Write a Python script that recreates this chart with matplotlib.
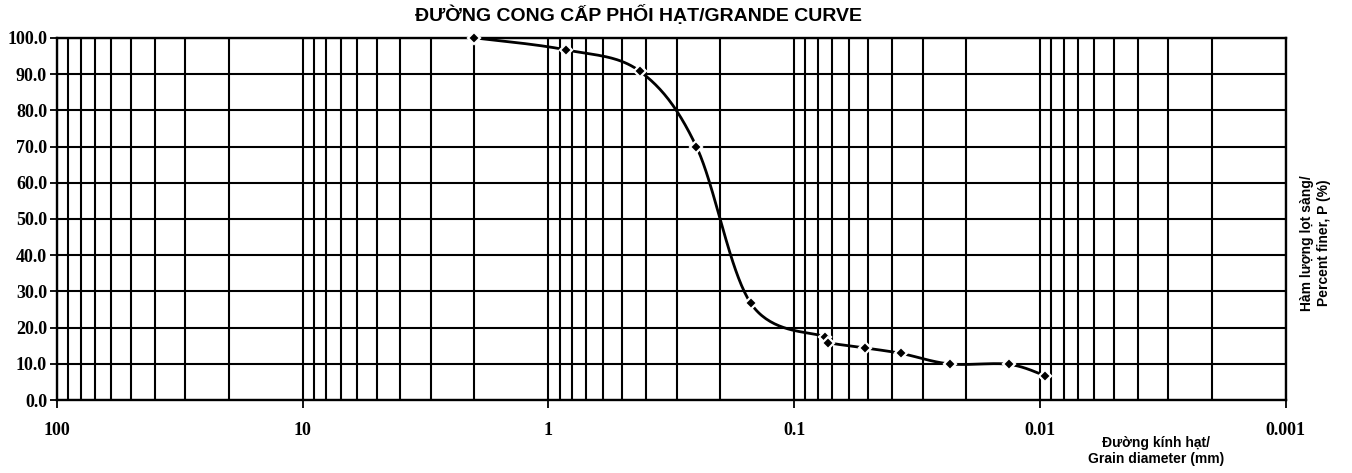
import numpy as np
import matplotlib
matplotlib.use("Agg")
import matplotlib.pyplot as plt
from matplotlib.ticker import FixedLocator

# grain size curve (sieve + hydrometer)
size_mm = [2.0, 0.85, 0.425, 0.25, 0.15, 0.075, 0.0726, 0.0513, 0.0367, 0.0233, 0.0134, 0.0095]
finer = [100.0, 96.7, 90.8, 70.0, 26.7, 17.4, 15.9, 14.4, 12.9, 10.0, 9.9, 6.7]

x_ticks = [100, 10, 1, 0.1, 0.01, 0.001]
x_tick_labels = ["100", "10", "1", "0.1", "0.01", "0.001"]
y_ticks = [0, 10, 20, 30, 40, 50, 60, 70, 80, 90, 100]

title = "ĐƯỜNG CONG CẤP PHỐI HẠT/GRANDE CURVE"
x_label = "Đường kính hạt/\nGrain diameter (mm)"
y_label = "Hàm lượng lọt sàng/\nPercent finer, P (%)"


def smooth(xs, ys, n=40):
    # catmull-rom through the points, done in a screen-like space (log x)
    px = np.log10(xs) * 248.0
    py = np.array(ys) * 3.63
    P = np.column_stack([px, py])
    P = np.vstack([P[0], P, P[-1]])
    out = []
    for i in range(1, len(P) - 2):
        p0, p1, p2, p3 = P[i - 1], P[i], P[i + 1], P[i + 2]
        c1 = p1 + (p2 - p0) / 6.0
        c2 = p2 - (p3 - p1) / 6.0
        t = np.linspace(0, 1, n)[:, None]
        seg = ((1 - t) ** 3) * p1 + 3 * ((1 - t) ** 2) * t * c1 + 3 * (1 - t) * t ** 2 * c2 + t ** 3 * p2
        out.append(seg)
    out = np.vstack(out)
    return 10 ** (out[:, 0] / 248.0), out[:, 1] / 3.63


fig = plt.figure(figsize=(13.52, 4.73), dpi=100)
ax = fig.add_axes([0.042, 0.154, 0.909, 0.766])

ax.set_xscale("log")
ax.set_xlim(100, 0.001)
ax.set_ylim(0, 100)

minor = [k * 10.0 ** e for e in range(-3, 2) for k in range(2, 10)]
ax.xaxis.set_major_locator(FixedLocator(x_ticks))
ax.xaxis.set_minor_locator(FixedLocator(minor))
ax.set_xticks(x_ticks)
ax.set_xticklabels(x_tick_labels, family="Liberation Serif", fontweight="bold", fontsize=13)
ax.set_yticks(y_ticks)
ax.set_yticklabels(["%.1f" % v for v in y_ticks], family="Liberation Serif", fontweight="bold", fontsize=13)
ax.tick_params(axis="x", which="major", length=6, width=1.3, pad=10, direction="out")
ax.tick_params(axis="x", which="minor", length=0)
ax.tick_params(axis="y", length=5, width=1.3, pad=2, direction="out")

ax.grid(True, which="both", axis="x", color="black", lw=1.5)
ax.grid(True, which="major", axis="y", color="black", lw=1.5)
for s in ax.spines.values():
    s.set_linewidth(1.7)

cx, cy = smooth(size_mm, finer)
ax.plot(cx, cy, color="black", lw=2.0, zorder=3)
ax.plot(size_mm, finer, ls="none", marker="D", markersize=6, color="black",
        markeredgecolor="white", markeredgewidth=1.6, zorder=4, clip_on=False)

fig.text(0.472, 1 - 25 / 473, title, ha="center", va="bottom", fontsize=14,
         family="Liberation Sans", fontweight="bold")
fig.text(0.855, 1 - 451 / 473, x_label, ha="center", va="center", fontsize=10,
         family="Liberation Sans", fontweight="bold", linespacing=1.2)
fig.text(0.973, 1 - 243 / 473, y_label, ha="center", va="center", rotation=90,
         fontsize=10, family="Liberation Sans", fontweight="bold", linespacing=1.2)

fig.savefig("out.png", dpi=100)
